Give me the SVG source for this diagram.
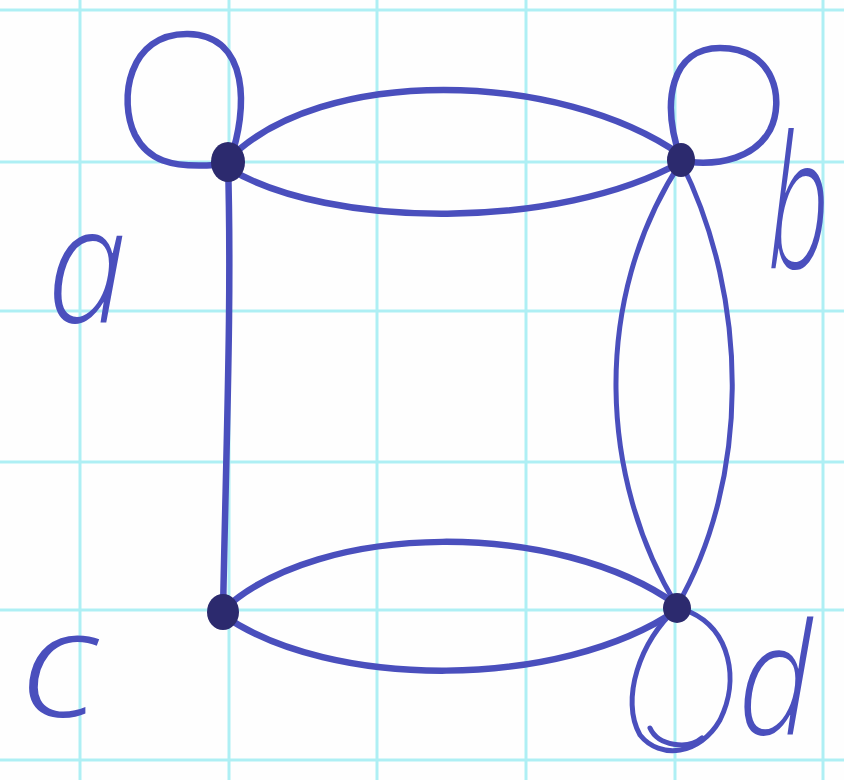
<svg xmlns="http://www.w3.org/2000/svg" width="844" height="780" viewBox="0 0 844 780">
  <style>
    .grid line { stroke: #aeeff4; stroke-width: 3; }
    .edge { fill: none; stroke: #4a4fbd; stroke-width: 6.5; stroke-linecap: round; stroke-linejoin: round; }
    .thin { stroke-width: 5; }
    .dot { fill: #2c2a6e; }
    .lbl { font-family: "Open Sans", "DejaVu Sans", sans-serif; font-style: italic; font-weight: 300; fill: #4a4fbd; }
  </style>
  <rect width="844" height="780" fill="#fefefe"/>
  <g class="grid">
    <line x1="80" y1="0" x2="80" y2="780"/>
    <line x1="229" y1="0" x2="229" y2="780"/>
    <line x1="377" y1="0" x2="377" y2="780"/>
    <line x1="526" y1="0" x2="526" y2="780"/>
    <line x1="675" y1="0" x2="675" y2="780"/>
    <line x1="823" y1="0" x2="823" y2="780"/>
    <line x1="0" y1="10" x2="844" y2="10"/>
    <line x1="0" y1="162" x2="844" y2="162"/>
    <line x1="0" y1="311" x2="844" y2="311"/>
    <line x1="0" y1="462" x2="844" y2="462"/>
    <line x1="0" y1="610" x2="844" y2="610"/>
    <line x1="0" y1="760" x2="844" y2="760"/>
  </g>
  <g id="connectors">
    <path class="edge" d="M230,160 C248,110 250,35 188,34 C128,33 118,100 135,135 C148,160 170,168 215,165"/>
    <path class="edge" d="M681,160 C660,100 672,48 720,48 C775,48 785,100 770,130 C755,158 720,165 690,162"/>
    <path class="edge" d="M228,160 C320,65 560,70 681,155"/>
    <path class="edge" d="M228,168 C330,230 560,230 681,162"/>
    <path class="edge thin" d="M681,162 C590,300 600,480 677,606"/>
    <path class="edge thin" d="M681,162 C750,300 750,480 677,606"/>
    <path class="edge" d="M223,610 C320,520 560,520 677,605"/>
    <path class="edge" d="M223,615 C330,690 560,690 677,610"/>
    <path class="edge thin" d="M677,608 C640,640 620,700 640,735 C660,760 700,755 720,720 C740,680 730,630 690,612"/>
    <path class="edge thin" d="M650,728 C658,746 688,750 702,738"/>
    <path class="edge" d="M228,163 C232,300 226,450 223,613"/>
  </g>
  <g id="node-a">
    <ellipse class="dot" cx="228" cy="162" rx="17" ry="20"/>
    <text class="lbl" font-size="163" transform="translate(47,322) scale(0.88,1)">a</text>
  </g>
  <g id="node-b">
    <ellipse class="dot" cx="681" cy="160" rx="14" ry="17"/>
    <text class="lbl" font-size="185" transform="translate(768,268) scale(0.58,1)">b</text>
  </g>
  <g id="node-c">
    <ellipse class="dot" cx="223" cy="612" rx="16" ry="18"/>
    <text class="lbl" font-size="150" transform="translate(20,717) scale(1.15,1)">c</text>
  </g>
  <g id="node-d">
    <ellipse class="dot" cx="677" cy="608" rx="14" ry="15"/>
    <text class="lbl" font-size="155" transform="translate(738,734) scale(0.83,1)">d</text>
  </g>
</svg>
